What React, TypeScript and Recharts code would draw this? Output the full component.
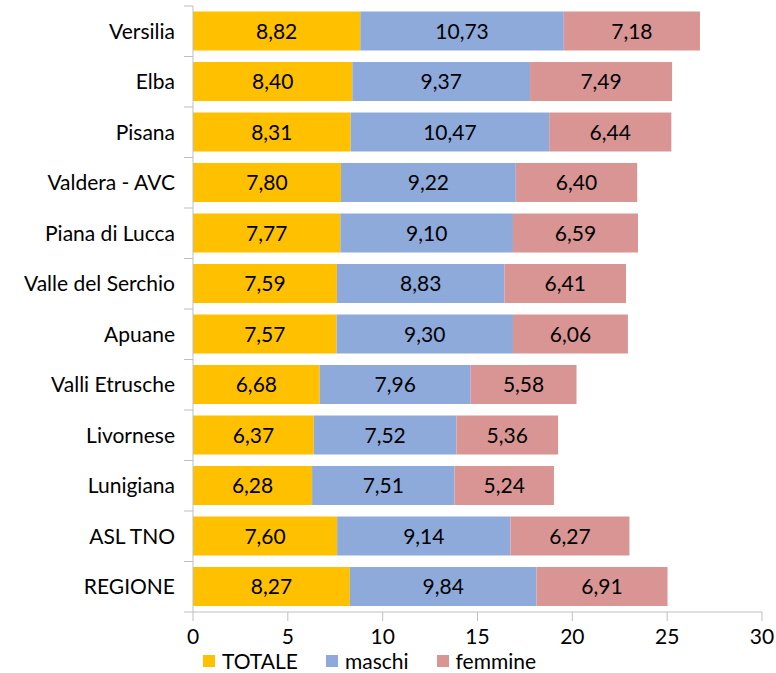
import React from 'react';
import { BarChart, Bar, XAxis, YAxis, Legend, LabelList } from 'recharts';

const zone = [
  'Versilia', 'Elba', 'Pisana', 'Valdera - AVC', 'Piana di Lucca', 'Valle del Serchio',
  'Apuane', 'Valli Etrusche', 'Livornese', 'Lunigiana', 'ASL TNO', 'REGIONE',
];
const totale = [8.82, 8.40, 8.31, 7.80, 7.77, 7.59, 7.57, 6.68, 6.37, 6.28, 7.60, 8.27];
const maschi = [10.73, 9.37, 10.47, 9.22, 9.10, 8.83, 9.30, 7.96, 7.52, 7.51, 9.14, 9.84];
const femmine = [7.18, 7.49, 6.44, 6.40, 6.59, 6.41, 6.06, 5.58, 5.36, 5.24, 6.27, 6.91];
const xTicks = [0, 5, 10, 15, 20, 25, 30];
const series = [
  { key: 'TOTALE', color: '#ffc000' },
  { key: 'maschi', color: '#8eaadb' },
  { key: 'femmine', color: '#d99594' },
];

const data = zone.map((z, i) => ({ zona: z, TOTALE: totale[i], maschi: maschi[i], femmine: femmine[i] }));

const FONT = 'Lato, "Liberation Sans", sans-serif';
const FS = 21;
const AXIS = '#bfbfbf';
const fmt = (v: any) => Number(v).toFixed(2).replace('.', ',');

// category label + boundary tick marks on the left of the axis
const ZoneTick = (props: any) => {
  const { x, y, payload, index } = props;
  const half = payload.offset || 0;
  const ax = x + 18;
  return (
    <g>
      <line x1={ax - 9} x2={ax} y1={y - half} y2={y - half} stroke={AXIS} />
      {index === zone.length - 1 && <line x1={ax - 9} x2={ax} y1={y + half} y2={y + half} stroke={AXIS} />}
      <text x={x} y={y} dy="0.36em" textAnchor="end" fontSize={FS} fill="#000" fontFamily={FONT}>
        {payload.value}
      </text>
    </g>
  );
};

const LegendBox = () => (
  <div
    style={{
      display: 'flex',
      alignItems: 'center',
      boxSizing: 'border-box',
      height: 27,
      paddingTop: 2,
      paddingLeft: 203,
      fontFamily: FONT,
      fontSize: FS,
      color: '#000',
    }}
  >
    {series.map((s) => (
      <div key={s.key} style={{ display: 'flex', alignItems: 'center', marginRight: 28 }}>
        <span style={{ width: 12, height: 12, background: s.color, marginRight: 7, display: 'inline-block' }} />
        <span style={{ lineHeight: '25px' }}>{s.key}</span>
      </div>
    ))}
  </div>
);

export default function App() {
  return (
    <div style={{ position: 'absolute', left: 0, top: 0, background: '#fff' }}>
      <BarChart
        width={776}
        height={673}
        data={data}
        layout="vertical"
        barCategoryGap="11%"
        margin={{ top: 6, right: 14, bottom: 0, left: 0 }}
      >
        <XAxis
          type="number"
          domain={[0, 30]}
          ticks={xTicks}
          interval={0}
          stroke={AXIS}
          tickSize={9}
          tick={{ fill: '#000', fontSize: FS, fontFamily: FONT }}
          tickMargin={8}
          height={34}
        />
        <YAxis
          type="category"
          dataKey="zona"
          width={193}
          stroke={AXIS}
          tickLine={false}
          tick={<ZoneTick />}
          tickMargin={0}
          tickSize={18}
        />
        <Legend
          content={<LegendBox />}
          verticalAlign="bottom"
          align="left"
          wrapperStyle={{ left: 0, width: 776, height: 27 }}
        />
        {series.map((s) => (
          <Bar key={s.key} dataKey={s.key} stackId="a" fill={s.color} isAnimationActive={false}>
            <LabelList dataKey={s.key} position="center" formatter={fmt} fill="#000" fontSize={FS} fontFamily={FONT} />
          </Bar>
        ))}
      </BarChart>
    </div>
  );
}
